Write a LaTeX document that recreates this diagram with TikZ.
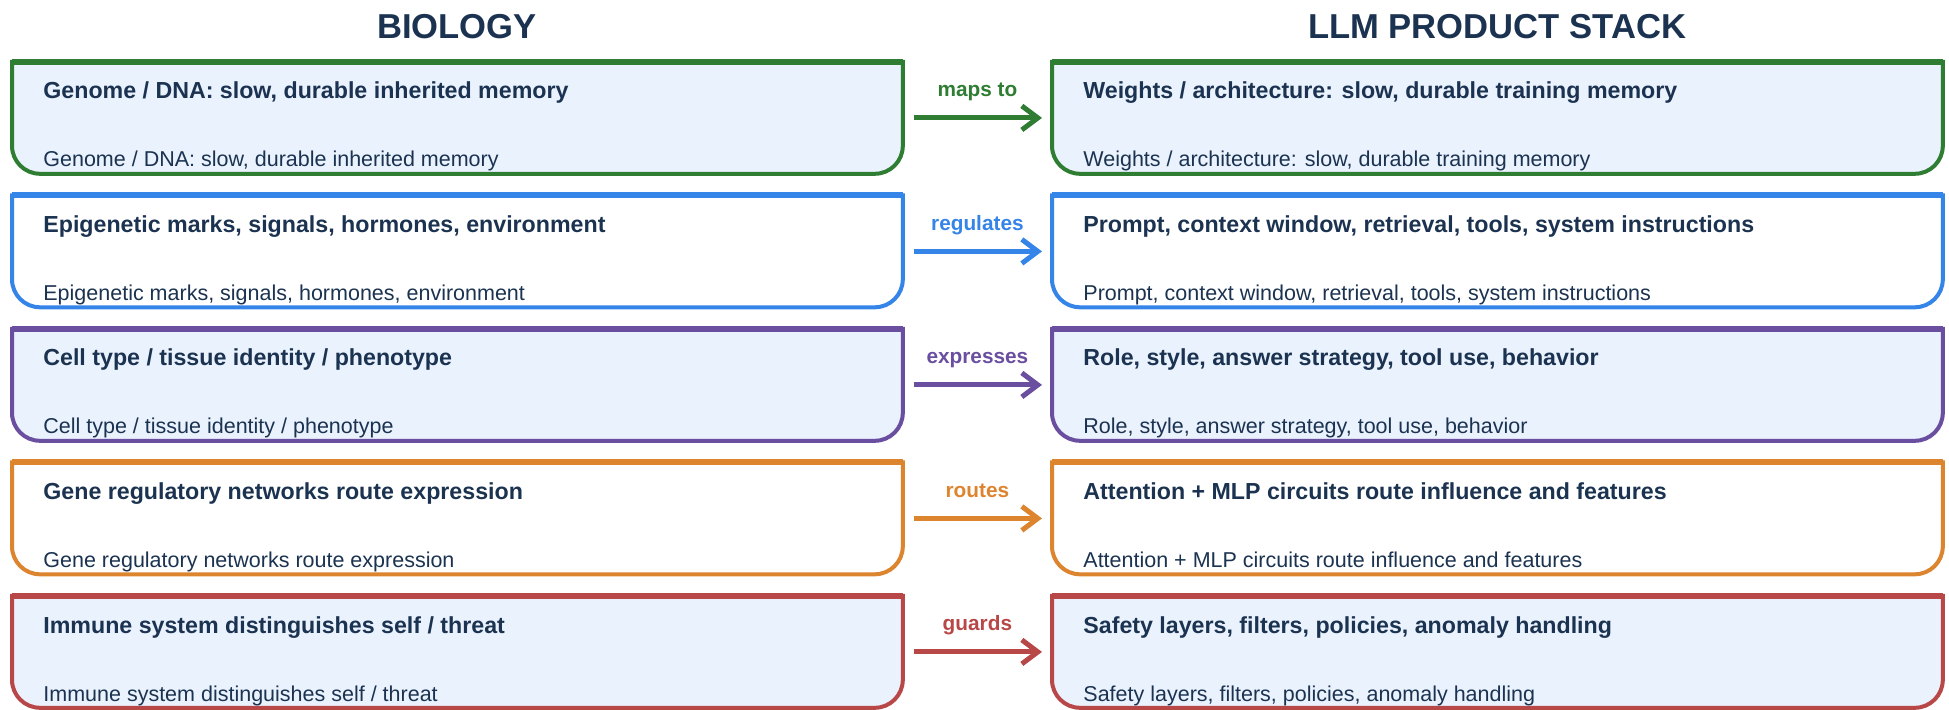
\documentclass[tikz,border=0pt]{standalone}
\usepackage{fontspec}
\setmainfont{Liberation Sans}
\usetikzlibrary{arrows.meta,calc}
\definecolor{navy}{HTML}{1B3350}
\definecolor{cgreen}{HTML}{2E7D32}
\definecolor{cblue}{HTML}{3584E8}
\definecolor{cpurple}{HTML}{6A4FA0}
\definecolor{corange}{HTML}{DD842F}
\definecolor{cred}{HTML}{B84848}
\definecolor{lightfill}{HTML}{EAF2FE}
\newcommand{\drawbox}[3]{%
  \draw[line width=2pt, draw=#2, fill=#3] (#1.north west) -- (#1.north east)
    -- ([yshift=14pt]#1.south east) arc[start angle=0,end angle=-90,radius=14pt]
    -- ([xshift=14pt]#1.south west) arc[start angle=270,end angle=180,radius=14pt]
    -- cycle;
  \draw[line width=3pt, draw=#2] (#1.north west) -- (#1.north east);}
\newcommand{\mkrow}[7]{%
  \node[boxarea] (L#1) at (12,#2) {};
  \node[boxarea] (R#1) at (1052,#2) {};
  \drawbox{L#1}{#3}{#4}
  \drawbox{R#1}{#3}{#4}
  \node[titletext] (L#1t) at ($(L#1.north west)+(31,37)$) {#5};
  \node[subtext] (L#1s) at ($(L#1.north west)+(31,105)$) {#5};
  \node[titletext] (R#1t) at ($(R#1.north west)+(31,37)$) {#6};
  \node[subtext] (R#1s) at ($(R#1.north west)+(31,105)$) {#6};
  \draw[conn, draw=#3] (L#1) -- node[lab, text=#3] (A#1) {#7} (R#1);}
\begin{document}
\begin{tikzpicture}[x=0.5pt,y=-0.5pt,
  boxarea/.style={minimum width=445pt, minimum height=55.5pt, inner sep=0pt, anchor=north west, draw=none},
  titletext/.style={anchor=base west, inner sep=0pt, text=navy, font=\fontsize{11.6pt}{14pt}\selectfont\bfseries},
  subtext/.style={anchor=base west, inner sep=0pt, text=navy, font=\fontsize{10.75pt}{13pt}\selectfont},
  header/.style={anchor=base, inner sep=0pt, text=navy, font=\fontsize{17.3pt}{21pt}\selectfont\bfseries},
  lab/.style={midway, anchor=base, yshift=10.5pt, inner sep=0pt, font=\fontsize{10.4pt}{12pt}\selectfont\bfseries},
  conn/.style={line width=2.5pt, shorten <=5.5pt, shorten >=5pt, -{Straight Barb[length=8pt,width=12pt,line width=2.5pt]}}]
\useasboundingbox (0,0) rectangle (1949,710);
\node[header] (hbio) at (457,39) {BIOLOGY};
\node[header] (hllm) at (1497,39) {LLM PRODUCT STACK};
\mkrow{1}{62}{cgreen}{lightfill}{Genome / DNA: slow, durable inherited memory}{Weights / architecture: slow, durable training memory}{maps to}
\mkrow{2}{195.5}{cblue}{white}{Epigenetic marks, signals, hormones, environment}{Prompt, context window, retrieval, tools, system instructions}{regulates}
\mkrow{3}{329}{cpurple}{lightfill}{Cell type / tissue identity / phenotype}{Role, style, answer strategy, tool use, behavior}{expresses}
\mkrow{4}{462.5}{corange}{white}{Gene regulatory networks route expression}{Attention + MLP circuits route influence and features}{routes}
\mkrow{5}{596}{cred}{lightfill}{Immune system distinguishes self / threat}{Safety layers, filters, policies, anomaly handling}{guards}
\end{tikzpicture}
\end{document}
